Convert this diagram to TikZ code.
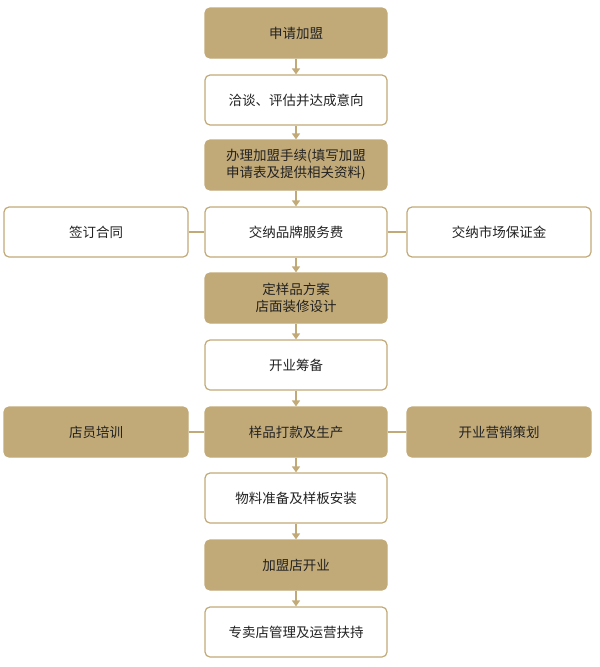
\documentclass[tikz,border=0pt]{standalone}
\usepackage{fontspec}
\newfontfamily\cjk{Noto Sans CJK SC}
\usetikzlibrary{arrows.meta}
\definecolor{gold}{HTML}{C2AA78}
\definecolor{txt}{HTML}{222222}
\tikzset{
 box/.style={draw=gold, line width=1.2pt, rounded corners=5pt, minimum height=50pt, text=txt, font=\cjk\fontsize{13.5}{17}\selectfont, align=center, inner sep=2pt},
 wbox/.style={box, fill=white},
 gbox/.style={box, fill=gold},
 mid/.style={minimum width=182pt},
 side/.style={minimum width=184pt},
 arr/.style={draw=gold, line width=1.5pt, -{Triangle[length=6pt,width=8pt]}},
 ln/.style={draw=gold, line width=1.2pt}
}
\begin{document}
\begin{tikzpicture}[x=1pt,y=-1pt]
\useasboundingbox (0,0) rectangle (600,667);
\node[gbox,mid] (n1) at (296,33) {申请加盟};
\node[wbox,mid] (n2) at (296,100) {洽谈、评估并达成意向};
\node[gbox,mid] (n3) at (296,165) {办理加盟手续(填写加盟\\申请表及提供相关资料)};
\node[wbox,mid] (n4) at (296,232) {交纳品牌服务费};
\node[wbox,side] (l4) at (96,232) {签订合同};
\node[wbox,side] (r4) at (499,232) {交纳市场保证金};
\node[gbox,mid] (n5) at (296,298) {定样品方案\\店面装修设计};
\node[wbox,mid] (n6) at (296,365) {开业筹备};
\node[gbox,mid] (n7) at (296,432) {样品打款及生产};
\node[gbox,side] (l7) at (96,432) {店员培训};
\node[gbox,side] (r7) at (499,432) {开业营销策划};
\node[wbox,mid] (n8) at (296,498) {物料准备及样板安装};
\node[gbox,mid] (n9) at (296,565) {加盟店开业};
\node[wbox,mid] (n10) at (296,632) {专卖店管理及运营扶持};
\foreach \a/\b in {n1/n2,n2/n3,n3/n4,n4/n5,n5/n6,n6/n7,n7/n8,n8/n9,n9/n10}
  \draw[arr] (\a) -- (\b);
\draw[ln] (l4) -- (n4); \draw[ln] (n4) -- (r4);
\draw[ln] (l7) -- (n7); \draw[ln] (n7) -- (r7);
\end{tikzpicture}
\end{document}
